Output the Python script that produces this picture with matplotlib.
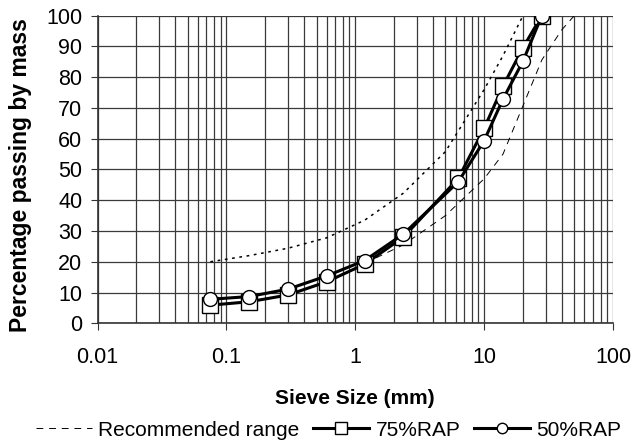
import matplotlib.pyplot as plt
import numpy as np

plt.rcParams['font.family'] = ['Liberation Sans', 'DejaVu Sans']

# sieve sizes (mm) and percentage passing
sizes = [0.075, 0.15, 0.3, 0.6, 1.18, 2.36, 6.3, 10, 14, 20, 28]
rap75 = [5.9, 7.0, 9.2, 13.5, 19.2, 28.0, 47.1, 63.4, 77.1, 89.6, 100]
rap50 = [7.8, 8.7, 11.1, 15.4, 20.4, 29.0, 46.0, 59.4, 72.9, 85.2, 100]

# recommended range envelope
upper_x = [0.075, 0.15, 0.3, 0.6, 1.18, 2.36, 5, 10, 14, 20]
upper_y = [20, 22, 24.4, 27.8, 33.5, 42.3, 55.8, 76, 87, 100]
lower_x = [1.18, 2.36, 5, 10, 14, 20, 28, 40, 50]
lower_y = [19.5, 25.5, 35, 47, 55, 70.7, 85.6, 95.4, 100]

fig = plt.figure(figsize=(6.32, 4.43), dpi=100)
ax = fig.add_axes([0.1544, 0.2702, 0.8156, 0.6944])

ax.set_xscale('log')
ax.set_xlim(0.01, 100)
ax.set_ylim(0, 100)
ax.set_yticks(np.arange(0, 101, 10))
ax.set_xticks([0.01, 0.1, 1, 10, 100])
ax.set_xticklabels(['0.01', '0.1', '1', '10', '100'])
ax.grid(which='major', color='#3a3a3a', linewidth=0.9)
ax.grid(which='minor', axis='x', color='#3a3a3a', linewidth=0.9)
ax.tick_params(which='minor', length=0)
ax.tick_params(which='major', direction='out', length=5, labelsize=15.5, color='#333333')
ax.tick_params(axis='x', pad=12)
ax.tick_params(axis='y', pad=6)
for s in ['top', 'right']:
    ax.spines[s].set_visible(False)
for s in ['left', 'bottom']:
    ax.spines[s].set_color('#333333')
    ax.spines[s].set_linewidth(1.2)

ax.plot(upper_x, upper_y, color='black', linewidth=1.1, linestyle=(0, (1.8, 3)))
rec, = ax.plot(lower_x, lower_y, color='black', linewidth=0.7, linestyle=(0, (7, 6)))
l75, = ax.plot(sizes, rap75, color='black', linewidth=2.2, marker='s', markersize=11,
               markerfacecolor='white', markeredgecolor='black', markeredgewidth=1.0)
l50, = ax.plot(sizes, rap50, color='black', linewidth=2.2, marker='o', markersize=10,
               markerfacecolor='white', markeredgecolor='black', markeredgewidth=1.0)

ax.set_xlabel('Sieve Size (mm)', fontsize=15, fontweight='bold', labelpad=15)
ax.set_ylabel('Percentage passing by mass', fontsize=16.5, fontweight='bold')
ax.yaxis.set_label_coords(-0.127, 0.482)

fig.legend([rec, l75, l50], ['Recommended range', '75%RAP', '50%RAP'],
           loc='lower center', bbox_to_anchor=(0.52, -0.035), ncol=3, frameon=False,
           fontsize=15, handlelength=2.7, columnspacing=0.65, handletextpad=0.3,
           markerscale=0.75)

fig.savefig('out.png', dpi=100)
